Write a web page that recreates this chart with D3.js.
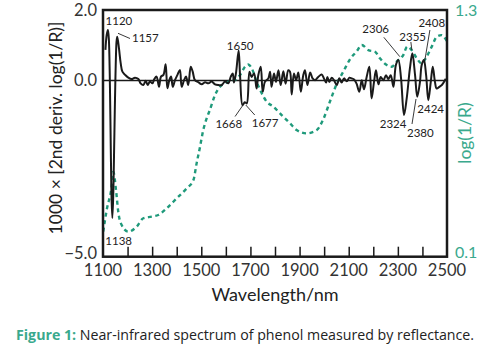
<!DOCTYPE html>
<html><head><meta charset="utf-8">
<script src="https://cdn.jsdelivr.net/npm/d3@7"></script>
<style>
html,body{margin:0;padding:0;background:#fff;}
svg{display:block;font-family:Lato,"Open Sans",sans-serif;}
</style></head>
<body>
<svg id="chart" width="492" height="355"></svg>
<script>
// ---- data ----
const derivWl = [1110,1115,1120,1124,1138,1155,1158,1165,1172,1179,1190,1203,1217,1230,1244,1253,1264,1274,1282,1291,1301,1309,1318,1328,1336,1346,1355,1362,1370,1377,1384,1393,1403,1413,1420,1430,1438,1447,1457,1465,1474,1488,1502,1515,1529,1542,1556,1570,1583,1597,1610,1620,1628,1633,1641,1652,1658,1668,1677,1685,1696,1705,1715,1725,1732,1742,1750,1759,1773,1780,1786,1796,1804,1814,1823,1834,1843,1854,1861,1868,1877,1886,1895,1905,1915,1922,1932,1943,1953,1963,1976,1990,1999,2008,2013,2021,2031,2040,2051,2062,2071,2081,2092,2103,2112,2122,2132,2143,2153,2162,2173,2184,2193,2203,2211,2221,2230,2241,2252,2261,2271,2282,2292,2302,2313,2325,2336,2349,2359,2370,2379,2390,2397,2406,2415,2424,2434,2442,2451,2458,2469,2480,2495];
const derivVal = [0.87,1.29,1.43,1.15,-3.9,1.1,1.24,0.91,0.49,0.25,0.16,0.08,0.04,0.08,0.04,-0.08,-0.13,-0.01,-0.13,-0.03,-0.08,0.04,0.11,-0.18,0.11,0.16,0.46,-0.22,0.01,0.11,-0.18,0.01,0.16,0.30,-0.18,0.01,0.11,-0.13,0.39,0.25,0.01,-0.05,-0.11,-0.05,-0.08,-0.03,-0.11,-0.13,-0.13,-0.03,-0.08,0.11,0.20,-0.06,0.20,0.85,0.11,-0.70,-0.62,-0.65,0.25,0.10,0.20,-0.23,0.15,0.39,-0.32,-0.04,0.06,0.25,-0.18,0.20,-0.04,0.29,-0.13,0.26,-0.09,0.29,0.25,-0.40,0.20,0.01,0.23,-0.32,0.15,0.29,-0.13,0.23,0.06,0.01,0.10,0.17,0.06,-0.06,0.10,-0.04,0.08,0.01,-0.13,0.06,-0.06,0.06,-0.02,0.08,0.06,0.03,-0.09,-0.32,0.01,-0.25,0.10,0.39,-0.51,-0.04,0.29,-0.11,0.10,0.01,0.15,0.04,0.15,-0.18,0.44,0.58,0.06,-0.98,-0.51,0.34,0.77,0.15,-0.46,-0.04,0.44,0.58,0.15,-0.56,-0.04,0.39,-0.04,-0.23,-0.18,-0.12,0.05];

const logWl = [1101,1115,1135,1142,1153,1162,1176,1203,1237,1264,1298,1325,1359,1400,1441,1468,1481,1495,1508,1522,1535,1556,1576,1610,1637,1658,1678,1691,1706,1725,1746,1766,1793,1827,1861,1888,1929,1970,1997,2024,2051,2078,2105,2133,2153,2180,2207,2227,2255,2275,2295,2322,2338,2356,2377,2397,2417,2438,2458,2478,2499];
const logVal = [0.222,0.327,0.44,0.513,0.424,0.319,0.254,0.222,0.246,0.287,0.295,0.303,0.335,0.384,0.433,0.473,0.554,0.635,0.716,0.773,0.814,0.887,0.927,0.951,0.96,0.984,1.024,1.035,1.015,0.951,0.895,0.854,0.83,0.789,0.749,0.716,0.70,0.716,0.77,0.856,0.94,1.00,1.06,1.10,1.13,1.105,1.097,1.065,1.032,1.024,1.049,1.081,1.122,1.105,1.065,1.04,1.073,1.122,1.17,1.178,1.15];

const xTickLabels = [1100,1300,1500,1700,1900,2100,2300,2500];
const xMinorTicks = [1200,1300,1400,1500,1600,1700,1800,1900,2000,2100,2200,2300,2400];
const leftTickLabels = ["2.0","0.0","\u22125.0"];
const leftTickValues = [2,0,-5];
const rightTickLabels = ["1.3","0.1"];
const rightTickValues = [1.3,0.1];
const peakLabels = ["1120","1157","1138","1650","1668","1677","2306","2355","2408","2324","2380","2424"];

// ---- layout ----
const L = 103, R = 447, T = 10, B = 256.7;
const black = "#1a1a1a", teal = "#1f9a7b", tealText = "#3aa98d";
const svg = d3.select("#chart");
svg.append("rect").attr("width",492).attr("height",355).attr("fill","#fff");

const x = d3.scaleLinear().domain([1100,2500]).range([L,R]);
const yL = d3.scaleLinear().domain([-5,2]).range([B,T]);
const yR = d3.scaleLinear().domain([0.1,1.3]).range([B,T]);

svg.append("clipPath").attr("id","clip").append("rect")
  .attr("x",L).attr("y",T).attr("width",R-L).attr("height",B-T);

// zero line
svg.append("line").attr("x1",L).attr("x2",R).attr("y1",yL(0)).attr("y2",yL(0))
  .attr("stroke",black).attr("stroke-width",1.3);

// teal dashed log(1/R)
const logData = logWl.map((w,i)=>[w,logVal[i]]);
svg.append("path").datum(logData)
  .attr("clip-path","url(#clip)")
  .attr("d", d3.line().x(d=>x(d[0])).y(d=>yR(d[1])).curve(d3.curveMonotoneX))
  .attr("fill","none").attr("stroke",teal).attr("stroke-width",2.4)
  .attr("stroke-dasharray","4,3.5");

// black 2nd derivative
const derivData = derivWl.map((w,i)=>[w,derivVal[i]]);
svg.append("path").datum(derivData)
  .attr("clip-path","url(#clip)")
  .attr("d", d3.line().x(d=>x(d[0])).y(d=>yL(d[1])).curve(d3.curveCatmullRom.alpha(0.5)))
  .attr("fill","none").attr("stroke",black).attr("stroke-width",2)
  .attr("stroke-linejoin","round");

// minor ticks (inward from bottom)
const xAxis = d3.axisBottom(x).tickValues(xMinorTicks).tickSize(-10).tickFormat("");
const gx = svg.append("g").attr("transform",`translate(0,${B})`).call(xAxis);
gx.select(".domain").remove();
gx.selectAll(".tick line").attr("stroke",black).attr("stroke-width",1.5);

// frame
svg.append("rect").attr("x",L).attr("y",T).attr("width",R-L).attr("height",B-T)
  .attr("fill","none").attr("stroke",black).attr("stroke-width",2.5);

// x tick labels
svg.append("g").selectAll("text").data(xTickLabels).join("text")
  .attr("x",d=>x(d)).attr("y",276).attr("text-anchor","middle")
  .attr("font-size",16.5).attr("fill","#333").text(d=>d);

// left tick labels
svg.append("g").selectAll("text").data(leftTickValues).join("text")
  .attr("x",97).attr("y",d=>yL(d)+(d===-5?2:6)).attr("text-anchor","end")
  .attr("font-size",16.5).attr("fill","#333").text((d,i)=>leftTickLabels[i]);

// right tick labels
svg.append("g").selectAll("text").data(rightTickValues).join("text")
  .attr("x",455).attr("y",d=>yR(d)+(d===0.1?1.5:6)).attr("text-anchor","start")
  .attr("font-size",16).attr("fill",tealText).text((d,i)=>rightTickLabels[i]);

// axis titles
svg.append("text").attr("x",(L+R)/2).attr("y",301).attr("text-anchor","middle")
  .attr("font-size",18).attr("fill","#222").text("Wavelength/nm");
svg.append("text").attr("transform","translate(62,128) rotate(-90)").attr("text-anchor","middle")
  .attr("font-size",17.5).attr("fill","#222").text("1000 \u00d7 [2nd deriv. log(1/R)]");
svg.append("text").attr("transform","translate(471,133) rotate(-90)").attr("text-anchor","middle")
  .attr("font-size",17.5).attr("fill",tealText).text("log(1/R)");

// peak annotations: [label index, label x, baseline y, anchor, leader]
const ann = [
  [0, x(1120)+11, 25, "middle", null],
  [1, x(1157)+15, 42, "start", [[x(1157)+1,33.3],[x(1157)+13,38.5]]],
  [2, x(1138)-7, 245, "start", null],
  [3, x(1650)+2, 50, "middle", null],
  [4, x(1668)-0.5, 128, "end", [[x(1668)+0.5,105],[x(1668)-7.5,116.5]]],
  [5, x(1677)+7, 127, "start", [[x(1677)+1,105],[x(1677)+10,115]]],
  [6, x(2306)-37, 33, "start", [[x(2306)-15.5,37.3],[x(2306)+0.5,56.7]]],
  [7, x(2355)-12, 41, "start", [[x(2355)-0.5,42],[x(2355)+0.5,50]]],
  [8, x(2408)-6, 27, "start", [[x(2408)+5.5,30],[x(2408)+0.5,60]]],
  [9, x(2324)-24, 128, "start", null],
  [10, x(2380)-10.5, 137, "start", [[x(2380)-1.5,99],[x(2380)-5.5,124]]],
  [11, x(2424)-11, 113, "start", null]
];
const ga = svg.append("g");
ann.forEach(a=>{
  ga.append("text").attr("x",a[1]).attr("y",a[2]).attr("text-anchor",a[3])
    .attr("font-size",11.5).attr("fill","#222").text(peakLabels[a[0]]);
  if(a[4]) ga.append("line").attr("x1",a[4][0][0]).attr("y1",a[4][0][1])
    .attr("x2",a[4][1][0]).attr("y2",a[4][1][1]).attr("stroke","#222").attr("stroke-width",0.9);
});

// caption
const cap = svg.append("text").attr("x",16).attr("y",340).attr("font-size",14.2)
  .attr("font-family","'Open Sans',sans-serif").attr("fill","#222");
cap.append("tspan").attr("font-weight","bold").attr("fill",tealText).text("Figure 1:");
cap.append("tspan").text(" Near-infrared spectrum of phenol measured by reflectance.");
</script>
</body></html>
